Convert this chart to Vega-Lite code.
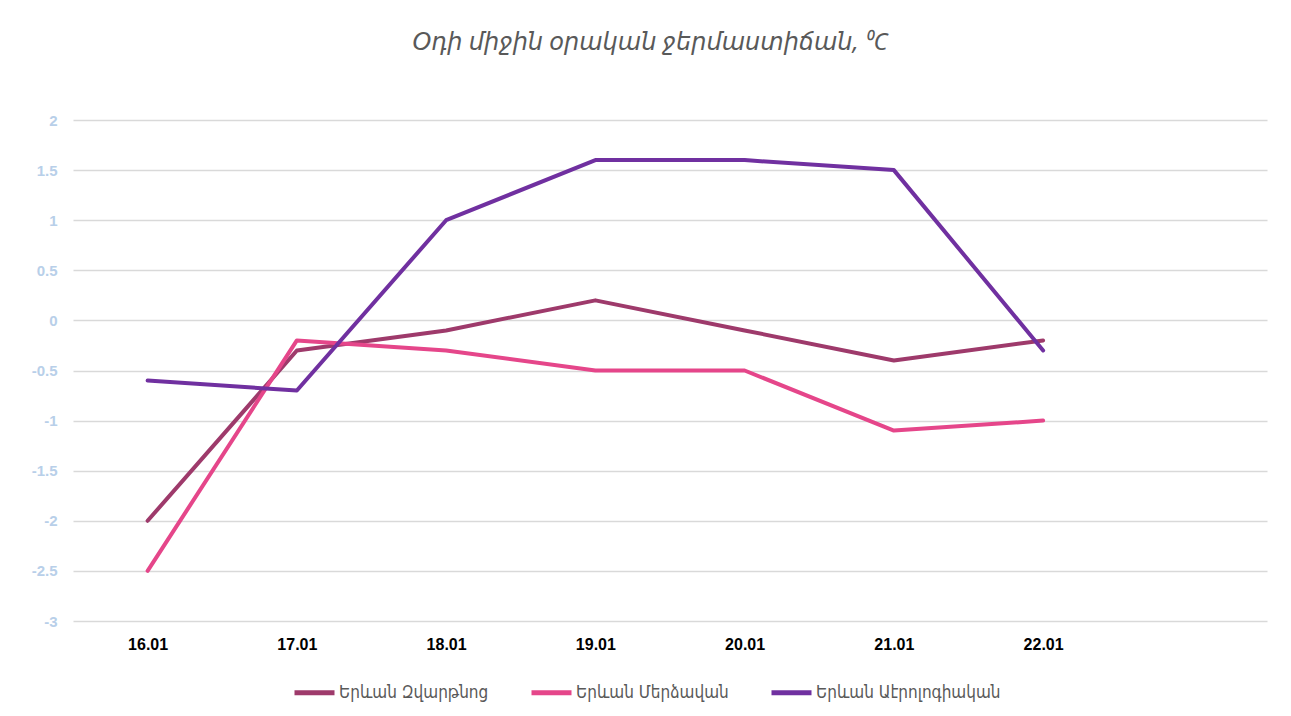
{
  "$schema": "https://vega.github.io/schema/vega-lite/v6.json",
  "width": 1194,
  "height": 501,
  "autosize": {"type": "none"},
  "padding": {"left": 73, "top": 120, "right": 24, "bottom": 95},
  "background": "white",
  "title": {
    "text": "Օդի միջին օրական ջերմաստիճան, ⁰C",
    "font": "Noto Sans, DejaVu Sans",
    "fontStyle": "italic",
    "fontWeight": "normal",
    "fontSize": 24,
    "color": "#595959",
    "anchor": "middle",
    "dx": -20,
    "offset": 58
  },
  "config": {
    "view": {"stroke": null},
    "font": "DejaVu Sans"
  },
  "data": {
    "values": [
      {"date": "16.01", "station": "Երևան Զվարթնոց", "t": -2.0},
      {"date": "17.01", "station": "Երևան Զվարթնոց", "t": -0.3},
      {"date": "18.01", "station": "Երևան Զվարթնոց", "t": -0.1},
      {"date": "19.01", "station": "Երևան Զվարթնոց", "t": 0.2},
      {"date": "20.01", "station": "Երևան Զվարթնոց", "t": -0.1},
      {"date": "21.01", "station": "Երևան Զվարթնոց", "t": -0.4},
      {"date": "22.01", "station": "Երևան Զվարթնոց", "t": -0.2},
      {"date": "16.01", "station": "Երևան Մերձավան", "t": -2.5},
      {"date": "17.01", "station": "Երևան Մերձավան", "t": -0.2},
      {"date": "18.01", "station": "Երևան Մերձավան", "t": -0.3},
      {"date": "19.01", "station": "Երևան Մերձավան", "t": -0.5},
      {"date": "20.01", "station": "Երևան Մերձավան", "t": -0.5},
      {"date": "21.01", "station": "Երևան Մերձավան", "t": -1.1},
      {"date": "22.01", "station": "Երևան Մերձավան", "t": -1.0},
      {"date": "16.01", "station": "Երևան Աէրոլոգիական", "t": -0.6},
      {"date": "17.01", "station": "Երևան Աէրոլոգիական", "t": -0.7},
      {"date": "18.01", "station": "Երևան Աէրոլոգիական", "t": 1.0},
      {"date": "19.01", "station": "Երևան Աէրոլոգիական", "t": 1.6},
      {"date": "20.01", "station": "Երևան Աէրոլոգիական", "t": 1.6},
      {"date": "21.01", "station": "Երևան Աէրոլոգիական", "t": 1.5},
      {"date": "22.01", "station": "Երևան Աէրոլոգիական", "t": -0.3}
    ]
  },
  "mark": {"type": "line", "strokeWidth": 4, "strokeCap": "round", "strokeJoin": "round"},
  "encoding": {
    "x": {
      "field": "date",
      "type": "ordinal",
      "scale": {"type": "point", "domain": ["16.01", "17.01", "18.01", "19.01", "20.01", "21.01", "22.01", " "], "padding": 0.5},
      "axis": {
        "title": null,
        "domain": false,
        "ticks": false,
        "grid": false,
        "labelAngle": 0,
        "labelFont": "Liberation Sans Narrow, Liberation Sans",
        "labelFontWeight": "bold",
        "labelFontSize": 16,
        "labelColor": "#000000",
        "labelPadding": 15
      }
    },
    "y": {
      "field": "t",
      "type": "quantitative",
      "scale": {"domain": [-3, 2], "nice": false, "zero": false},
      "axis": {
        "title": null,
        "values": [-3, -2.5, -2, -1.5, -1, -0.5, 0, 0.5, 1, 1.5, 2],
        "labelExpr": "'' + datum.value",
        "domain": false,
        "ticks": false,
        "gridColor": "#d9d9d9",
        "gridWidth": 1.5,
        "labelFont": "Liberation Sans Narrow, Liberation Sans",
        "labelFontWeight": "bold",
        "labelFontSize": 15,
        "labelColor": "#b8cfe9",
        "labelPadding": 16
      }
    },
    "color": {
      "field": "station",
      "type": "nominal",
      "scale": {
        "domain": ["Երևան Զվարթնոց", "Երևան Մերձավան", "Երևան Աէրոլոգիական"],
        "range": ["#9e3a6b", "#e5468a", "#7030a0"]
      },
      "legend": {
        "title": null,
        "orient": "none",
        "direction": "horizontal",
        "legendX": 219,
        "legendY": 550,
        "symbolType": "stroke",
        "symbolStrokeWidth": 5,
        "symbolSize": 1600,
        "labelFont": "DejaVu Sans Condensed, DejaVu Sans",
        "labelFontSize": 17,
        "labelLimit": 400,
        "labelColor": "#595959",
        "labelOffset": 2,
        "columnPadding": 32
      }
    }
  }
}
